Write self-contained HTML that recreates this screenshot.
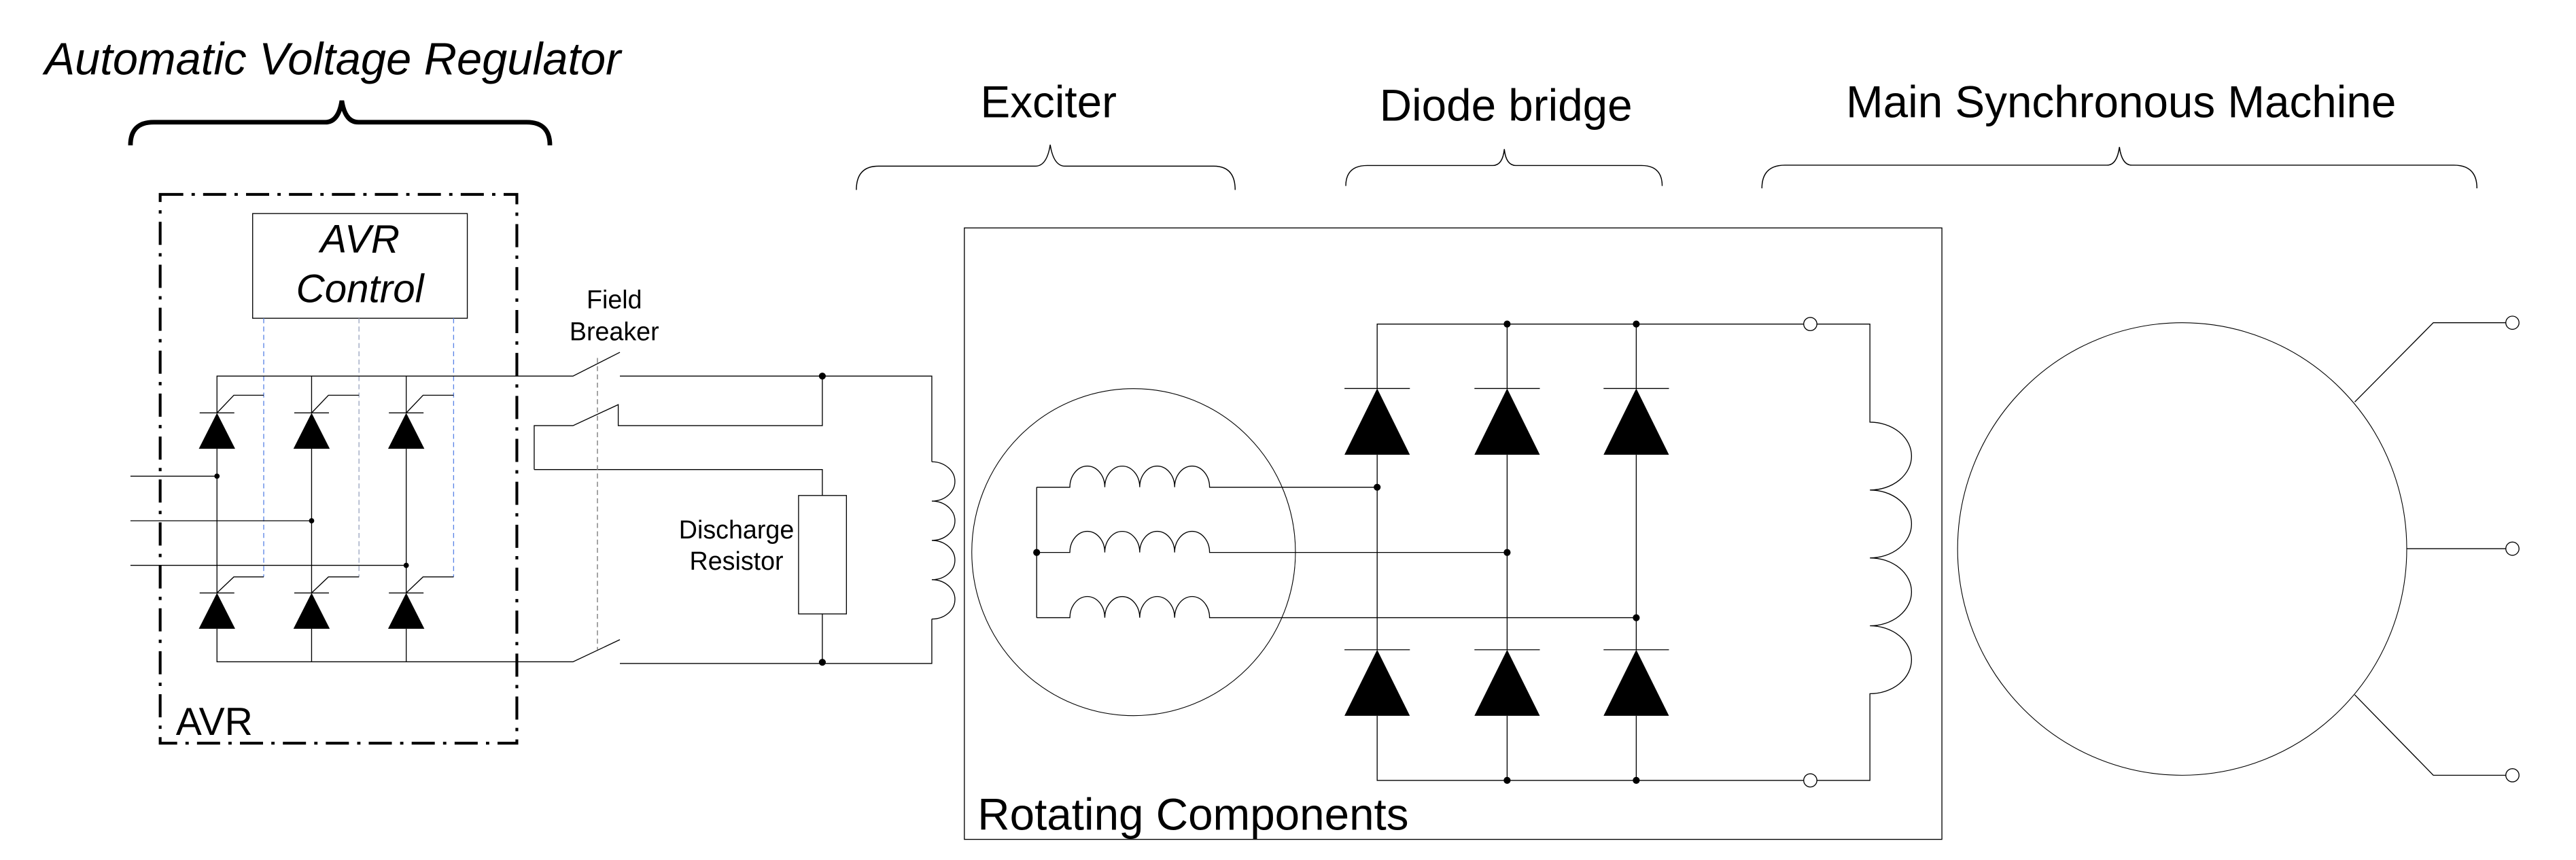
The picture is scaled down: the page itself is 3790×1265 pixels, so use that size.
<!DOCTYPE html>
<html><head><meta charset="utf-8"><style>
html,body{margin:0;padding:0;background:#fff;}
svg{display:block;}
text{font-family:"Liberation Sans",Arial,sans-serif;fill:#000;}
</style></head><body>
<svg width="3790" height="1265" viewBox="0 0 1560 520.7" preserveAspectRatio="none" xmlns="http://www.w3.org/2000/svg">
<g fill="none" stroke="#000" stroke-width="0.55">

<!-- Headings braces -->
<path d="M79,88 Q79,74 93,74 L197,74 Q205,74 207,61 Q209,74 217,74 L319,74 Q333,74 333,88" stroke-width="2.8"/>
<path d="M518.6,115 Q518.6,100.6 532,100.6 L627,100.6 Q634,100.6 636,87.6 Q638,100.6 645,100.6 L735,100.6 Q748,100.6 748,115" stroke-width="0.6"/>
<path d="M815,112.6 Q815,100.2 828,100.2 L904,100.2 Q910,100.2 911,90.3 Q912,100.2 918,100.2 L994,100.2 Q1006.6,100.2 1006.6,112.6" stroke-width="0.6"/>
<path d="M1067,114 Q1067,100 1081,100 L1276,100 Q1282,100 1283.5,89 Q1285,100 1291,100 L1486,100 Q1500,100 1500,114" stroke-width="0.6"/>

<!-- AVR dashed box -->
<rect x="97" y="117.7" width="216" height="332.3" stroke-width="1.7" stroke-dasharray="14,5,2,5"/>
<!-- AVR control -->
<rect x="153" y="129.3" width="130" height="63.4" stroke-width="0.55"/>
<!-- blue dashed -->
<g stroke="#5a84e6" stroke-dasharray="3,2">
<line x1="159.7" y1="192.7" x2="159.7" y2="349.3"/>
<line x1="217.4" y1="192.7" x2="217.4" y2="349.3" stroke="#9aa4bf"/>
<line x1="274.7" y1="192.7" x2="274.7" y2="349.3"/>
</g>
<!-- rails -->
<path d="M131.4,250 V227.7 H347 L375.4,213.3"/>
<line x1="188.7" y1="227.7" x2="188.7" y2="250"/>
<line x1="246" y1="227.7" x2="246" y2="250"/>
<path d="M131.4,380.7 V400.7 H347 L375.4,387.3"/>
<line x1="188.7" y1="380.7" x2="188.7" y2="400.7"/>
<line x1="246" y1="380.7" x2="246" y2="400.7"/>
<line x1="131.4" y1="271.7" x2="131.4" y2="359"/>
<line x1="188.7" y1="271.7" x2="188.7" y2="359"/>
<line x1="246" y1="271.7" x2="246" y2="359"/>
<!-- inputs -->
<line x1="79" y1="288.3" x2="131.4" y2="288.3"/>
<line x1="79" y1="315.3" x2="188.7" y2="315.3"/>
<line x1="79" y1="342.3" x2="246" y2="342.3"/>
<!-- thyristor bars and gates -->
<g>
<line x1="120.9" y1="250" x2="141.9" y2="250"/><line x1="178.2" y1="250" x2="199.2" y2="250"/><line x1="235.5" y1="250" x2="256.5" y2="250"/>
<line x1="120.9" y1="359" x2="141.9" y2="359"/><line x1="178.2" y1="359" x2="199.2" y2="359"/><line x1="235.5" y1="359" x2="256.5" y2="359"/>
<path d="M131.4,250 L141.6,239.3 H159.7"/><path d="M188.7,250 L198.9,239.3 H217.4"/><path d="M246,250 L256.2,239.3 H274.7"/>
<path d="M131.4,359 L141.6,349.3 H159.7"/><path d="M188.7,359 L198.9,349.3 H217.4"/><path d="M246,359 L256.2,349.3 H274.7"/>
</g>

<!-- field breaker -->
<path d="M375.4,227.7 H564.3 V279.6"/>
<path d="M323.5,284.3 V257.7 H347 L374.4,245 V257.7 H498 V227.7"/>
<path d="M323.5,284.3 H498 V300"/>
<rect x="483.6" y="300" width="29" height="71.7"/>
<path d="M498,371.7 V401"/>
<path d="M375.4,401.7 H564.3 V374.8"/>
<line x1="361.8" y1="216.7" x2="361.8" y2="393.3" stroke="#777" stroke-dasharray="3,2"/>
<!-- exciter field coil -->
<path d="M564.3,279.6 a14,11.9 0 0 1 0,23.8 a14,11.9 0 0 1 0,23.8 a14,11.9 0 0 1 0,23.8 a14,11.9 0 0 1 0,23.8"/>

<!-- rotating box -->
<rect x="584" y="138" width="592" height="370.2"/>
<!-- exciter armature -->
<ellipse cx="686.5" cy="334.3" rx="98" ry="99" stroke-width="0.45"/>
<path d="M627.8,295 V374"/>
<path d="M627.8,295 H647.9 a10.575,12.8 0 0 1 21.15,0 a10.575,12.8 0 0 1 21.15,0 a10.575,12.8 0 0 1 21.15,0 a10.575,12.8 0 0 1 21.15,0 H834"/>
<path d="M627.8,334.5 H647.9 a10.575,12.8 0 0 1 21.15,0 a10.575,12.8 0 0 1 21.15,0 a10.575,12.8 0 0 1 21.15,0 a10.575,12.8 0 0 1 21.15,0 H912.7"/>
<path d="M627.8,374 H647.9 a10.575,12.8 0 0 1 21.15,0 a10.575,12.8 0 0 1 21.15,0 a10.575,12.8 0 0 1 21.15,0 a10.575,12.8 0 0 1 21.15,0 H990.9"/>
<!-- diode bridge -->
<path d="M834,235.2 V196.2 H1092.3"/>
<line x1="912.7" y1="196.2" x2="912.7" y2="235.2"/>
<line x1="990.9" y1="196.2" x2="990.9" y2="235.2"/>
<line x1="834" y1="275.3" x2="834" y2="393.4"/>
<line x1="912.7" y1="275.3" x2="912.7" y2="393.4"/>
<line x1="990.9" y1="275.3" x2="990.9" y2="393.4"/>
<path d="M834,433.4 V472.5 H1092.3"/>
<line x1="912.7" y1="433.4" x2="912.7" y2="472.5"/>
<line x1="990.9" y1="433.4" x2="990.9" y2="472.5"/>
<line x1="814.2" y1="235.2" x2="853.8" y2="235.2"/><line x1="892.9" y1="235.2" x2="932.5" y2="235.2"/><line x1="971.1" y1="235.2" x2="1010.7" y2="235.2"/>
<line x1="814.2" y1="393.4" x2="853.8" y2="393.4"/><line x1="892.9" y1="393.4" x2="932.5" y2="393.4"/><line x1="971.1" y1="393.4" x2="1010.7" y2="393.4"/>
<!-- terminals & rotor coil -->
<circle cx="1096.3" cy="196.2" r="4"/>
<circle cx="1096.3" cy="472.5" r="4"/>
<path d="M1100.3,196.2 H1132.4 V255.6 a25.2,20.55 0 0 1 0,41.1 a25.2,20.55 0 0 1 0,41.1 a25.2,20.55 0 0 1 0,41.1 a25.2,20.55 0 0 1 0,41.1 V472.5 H1100.3"/>
<!-- main machine -->
<ellipse cx="1321.5" cy="332.4" rx="136" ry="137" stroke-width="0.45"/>
<path d="M1426,243.4 L1473.6,195.4 H1517.5"/>
<path d="M1457.6,332.2 H1517.5"/>
<path d="M1426,420.7 L1473.6,469.4 H1517.5"/>
<circle cx="1521.5" cy="195.4" r="4"/>
<circle cx="1521.5" cy="332.2" r="4"/>
<circle cx="1521.5" cy="469.4" r="4"/>
</g>

<!-- filled parts -->
<g fill="#000">
<polygon points="131.4,250 120.4,271.7 142.4,271.7"/>
<polygon points="188.7,250 177.7,271.7 199.7,271.7"/>
<polygon points="246,250 235,271.7 257,271.7"/>
<polygon points="131.4,359 120.4,380.7 142.4,380.7"/>
<polygon points="188.7,359 177.7,380.7 199.7,380.7"/>
<polygon points="246,359 235,380.7 257,380.7"/>
<polygon points="834,235.2 814.2,275.3 853.8,275.3"/>
<polygon points="912.7,235.2 892.9,275.3 932.5,275.3"/>
<polygon points="990.9,235.2 971.1,275.3 1010.7,275.3"/>
<polygon points="834,393.4 814.2,433.4 853.8,433.4"/>
<polygon points="912.7,393.4 892.9,433.4 932.5,433.4"/>
<polygon points="990.9,393.4 971.1,433.4 1010.7,433.4"/>
<circle cx="131.4" cy="288.3" r="1.6"/>
<circle cx="188.7" cy="315.3" r="1.6"/>
<circle cx="246" cy="342.3" r="1.6"/>
<circle cx="498" cy="227.7" r="2.1"/>
<circle cx="498" cy="401" r="2.1"/>
<circle cx="627.8" cy="334.5" r="2.1"/>
<circle cx="834" cy="295" r="2.1"/>
<circle cx="912.7" cy="334.5" r="2.1"/>
<circle cx="990.9" cy="374" r="2.1"/>
<circle cx="912.7" cy="196.2" r="2.1"/>
<circle cx="990.9" cy="196.2" r="2.1"/>
<circle cx="912.7" cy="472.5" r="2.1"/>
<circle cx="990.9" cy="472.5" r="2.1"/>
</g>

<!-- text -->
<text x="27" y="45" font-size="27.5" font-style="italic">Automatic Voltage Regulator</text>
<text x="635" y="71" font-size="27" text-anchor="middle">Exciter</text>
<text x="912" y="73" font-size="27" text-anchor="middle">Diode bridge</text>
<text x="1284.5" y="71" font-size="27" text-anchor="middle">Main Synchronous Machine</text>
<text x="218" y="153" font-size="24" font-style="italic" text-anchor="middle">AVR</text>
<text x="218" y="183" font-size="24" font-style="italic" text-anchor="middle">Control</text>
<text x="372" y="186.7" font-size="15.5" text-anchor="middle">Field</text>
<text x="372" y="206" font-size="15.5" text-anchor="middle">Breaker</text>
<text x="446" y="326" font-size="15.5" text-anchor="middle">Discharge</text>
<text x="446" y="345" font-size="15.5" text-anchor="middle">Resistor</text>
<text x="106.5" y="445" font-size="23.5">AVR</text>
<text x="592" y="502.3" font-size="27">Rotating Components</text>
</svg>
</body></html>
